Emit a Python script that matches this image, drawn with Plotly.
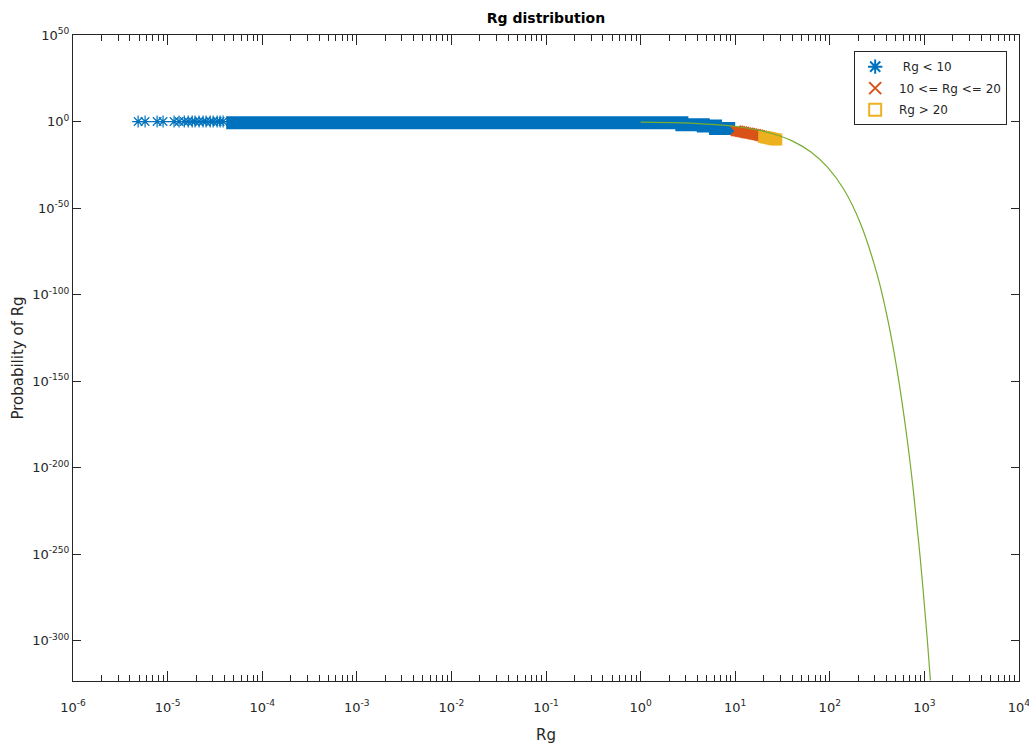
import plotly.graph_objects as go

# ---------------- data ----------------
# x tick labels / y tick labels
x_tick_vals = [1e-6, 1e-5, 1e-4, 1e-3, 1e-2, 1e-1, 1e0, 1e1, 1e2, 1e3, 1e4]
x_tick_text = ["10<sup>-6</sup>", "10<sup>-5</sup>", "10<sup>-4</sup>", "10<sup>-3</sup>",
               "10<sup>-2</sup>", "10<sup>-1</sup>", "10<sup>0</sup>", "10<sup>1</sup>",
               "10<sup>2</sup>", "10<sup>3</sup>", "10<sup>4</sup>"]
y_tick_vals = [1e50, 1e0, 1e-50, 1e-100, 1e-150, 1e-200, 1e-250, 1e-300]
y_tick_text = ["10<sup>50</sup>", "10<sup>0</sup>", "10<sup>-50</sup>", "10<sup>-100</sup>",
               "10<sup>-150</sup>", "10<sup>-200</sup>", "10<sup>-250</sup>", "10<sup>-300</sup>"]

# Rg < 10 : isolated asterisks at the far left
blue_x = [4.88e-6, 5.78e-6, 7.74e-6, 8.95e-6, 1.17e-5, 1.32e-5, 1.50e-5, 1.65e-5,
          1.82e-5, 1.95e-5, 2.15e-5, 2.37e-5, 2.55e-5, 2.82e-5, 3.03e-5, 3.34e-5,
          3.59e-5, 3.86e-5]
blue_logp = [0.0] * len(blue_x)

# Rg < 10 : the continuous, solid band of overlapping asterisks (step edges)
band_x = [4.16e-5, 2.73, 4.6, 6.2, 10.0]
band_logp = [-0.7, -1.8, -2.6, -4.0, -4.0]

# 10 <= Rg <= 20
red_x = [10.2, 10.76, 11.29, 11.86, 12.45, 13.07, 13.73, 14.41, 15.13, 15.89,
         16.68, 17.51, 18.39, 19.31]
red_logp = [-5.4, -5.6, -5.8, -6.0, -6.2, -6.5, -6.7, -6.9, -7.1, -7.4,
            -7.6, -7.9, -8.1, -8.4]

# Rg > 20
orange_x = [20.27, 21.28, 22.35, 23.47, 24.63, 25.86, 27.16]
orange_logp = [-8.9, -9.2, -9.4, -9.7, -9.9, -10.2, -10.4]

# fitted probability curve (green)
curve_x = [1.0, 2.7, 9.3, 18.7, 28.1, 40.0, 63.2, 94.0, 140.0, 210.0, 316.0, 403.0,
           511.0, 652.0, 766.0, 901.0, 1060.0, 1148.0, 1158.0]
curve_logp = [-0.3, -0.8, -2.6, -5.3, -7.9, -11.2, -17.6, -26.2, -39.0, -58.6, -88.2,
              -112.4, -142.6, -182.0, -213.7, -251.4, -295.7, -320.3, -323.1]


def to_p(vals):
    return [10.0 ** v for v in vals]


BLUE = "#0072BD"
RED = "#D95319"
ORANGE = "#EDB120"
GREEN = "#77AC30"
AX = "#262626"
FONT = "DejaVu Sans"

fig = go.Figure()

fig.add_trace(go.Scatter(
    x=band_x, y=to_p(band_logp), mode="lines", line=dict(color=BLUE, width=13, shape="hv"),
    showlegend=False, hoverinfo="skip", legendgroup="g1"))

fig.add_trace(go.Scatter(
    x=blue_x, y=to_p(blue_logp), mode="markers", name="  Rg < 10", legendgroup="g1",
    marker=dict(symbol="asterisk-open", size=10, color=BLUE, line=dict(color=BLUE, width=1.2))))

fig.add_trace(go.Scatter(
    x=red_x, y=to_p(red_logp), mode="markers", name=" 10 <= Rg <= 20", legendgroup="g2",
    marker=dict(symbol="x-thin-open", size=10, color=RED, line=dict(color=RED, width=2.5))))

fig.add_trace(go.Scatter(
    x=orange_x, y=to_p(orange_logp), mode="markers", name=" Rg > 20", legendgroup="g3",
    marker=dict(symbol="square-open", size=9, color=ORANGE, line=dict(color=ORANGE, width=3))))

fig.add_trace(go.Scatter(
    x=curve_x, y=to_p(curve_logp), mode="lines", line=dict(color=GREEN, width=1.2, shape="spline"),
    showlegend=False, hoverinfo="skip", legendgroup="g4"))

fig.update_layout(
    width=1029, height=744,
    margin=dict(l=73, r=10, t=35, b=63, autoexpand=False),
    paper_bgcolor="white", plot_bgcolor="white",
    font=dict(family=FONT, size=13, color=AX),
    title=dict(text="<b>Rg distribution</b>", x=0.5, xref="paper", xanchor="center",
               y=1 - 18 / 744, yref="container", yanchor="middle",
               font=dict(family=FONT, size=14, color="black")),
    legend=dict(x=0.9875, xanchor="right", y=0.975, yanchor="top",
                bgcolor="white", bordercolor=AX, borderwidth=1,
                itemsizing="constant", tracegroupgap=2.5,
                font=dict(family=FONT, size=12, color=AX)),
    showlegend=True,
)

fig.update_xaxes(
    type="log", range=[-6.0002, 4.0002], automargin=False,
    tickmode="array", tickvals=x_tick_vals, ticktext=x_tick_text,
    ticks="inside", ticklen=10, tickwidth=1, tickcolor=AX, ticklabelstandoff=14,
    ticklabeloverflow="allow",
    minor=dict(ticks="inside", ticklen=6, tickcolor=AX, dtick="D1", showgrid=False),
    showline=True, linecolor=AX, linewidth=1, mirror="allticks",
    showgrid=False, zeroline=False,
    tickfont=dict(family=FONT, size=13, color=AX),
    title=dict(text="Rg", standoff=18, font=dict(family=FONT, size=15, color=AX)),
)

fig.update_yaxes(
    type="log", range=[-323.3, 50], automargin=False,
    tickmode="array", tickvals=y_tick_vals, ticktext=y_tick_text,
    ticks="inside", ticklen=8, tickwidth=1, tickcolor=AX,
    showline=True, linecolor=AX, linewidth=1, mirror="allticks",
    showgrid=False, zeroline=False,
    tickfont=dict(family=FONT, size=13, color=AX),
    title=dict(text="Probability of Rg", standoff=4, font=dict(family=FONT, size=15, color=AX)),
)

fig.write_html(
    "out.html",
    config={"displayModeBar": False},
    post_script="document.body.style.margin='0';document.body.style.padding='0';"
                "document.body.style.overflow='hidden';",
)
